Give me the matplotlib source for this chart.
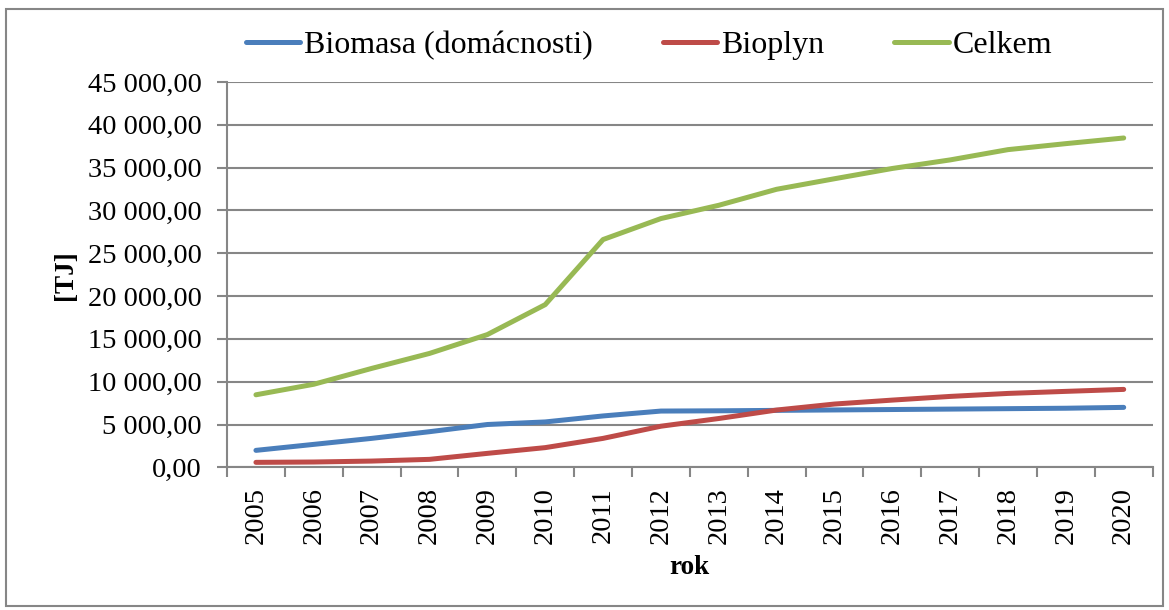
import matplotlib.pyplot as plt
from matplotlib.patches import Rectangle
import numpy as np

# Data
years = [str(y) for y in range(2005, 2021)]
biomasa = [1980, 2680, 3380, 4160, 5000, 5300, 6000, 6570, 6600, 6650, 6700, 6750, 6800, 6850, 6900, 7000]
bioplyn = [580, 620, 730, 930, 1630, 2300, 3380, 4800, 5700, 6690, 7390, 7850, 8280, 8630, 8870, 9100]
celkem = [8470, 9700, 11550, 13300, 15500, 19000, 26600, 29050, 30600, 32470, 33700, 34900, 35900, 37100, 37800, 38460]

plt.rcParams['font.family'] = ['Liberation Serif', 'DejaVu Serif']
grid_col = '#868686'

fig = plt.figure(figsize=(11.69, 6.10), dpi=100)
ax = fig.add_axes([0.1942, 0.2339, 0.986 - 0.1942, 0.8656 - 0.2339])

x = np.arange(len(years))
ax.plot(x, biomasa, color='#4a7ebb', lw=3.6, solid_capstyle='round', label='Biomasa (domácnosti)')
ax.plot(x, bioplyn, color='#be4b48', lw=3.6, solid_capstyle='round', label='Bioplyn')
ax.plot(x, celkem, color='#98b954', lw=3.6, solid_capstyle='round', label='Celkem')

ax.set_xlim(-0.5, len(years) - 0.5)
ax.set_ylim(0, 45000)
ax.set_yticks(np.arange(0, 45001, 5000))
ax.set_yticklabels([f"{v:,.2f}".replace(",", " ").replace(".", ",") for v in np.arange(0, 45001, 5000)])
ax.set_xticks(x)
ax.set_xticklabels(years, rotation=90)
ax.set_xticks(np.arange(-0.5, len(years)), minor=True)
ax.tick_params(axis='x', which='major', length=0, labelsize=20.5, pad=14)
ax.tick_params(axis='x', which='minor', length=7, color=grid_col, width=1.5)
ax.tick_params(axis='y', length=7, color=grid_col, width=1.5, labelsize=20.5, pad=11)

ax.grid(axis='y', color=grid_col, lw=1.5)
ax.set_axisbelow(True)
for s in ['top', 'right']:
    ax.spines[s].set_visible(False)
for s in ['left', 'bottom']:
    ax.spines[s].set_color(grid_col)
    ax.spines[s].set_linewidth(1.5)

ax.set_xlabel('rok', fontsize=19.5, fontweight='bold', labelpad=8)
ax.set_ylabel('[TJ]', fontsize=19.5, fontweight='bold', labelpad=7)

fig.legend(loc='center', bbox_to_anchor=(0.555, 0.925), ncol=3, frameon=False,
           fontsize=23, handlelength=1.7, handletextpad=0.12, columnspacing=2.2)

fig.patches.append(Rectangle((6 / 1169, 1 - 606 / 610), 1157 / 1169, 597 / 610,
                             transform=fig.transFigure, fill=False, edgecolor=grid_col, lw=1.5))

fig.savefig('out.png', dpi=100)
